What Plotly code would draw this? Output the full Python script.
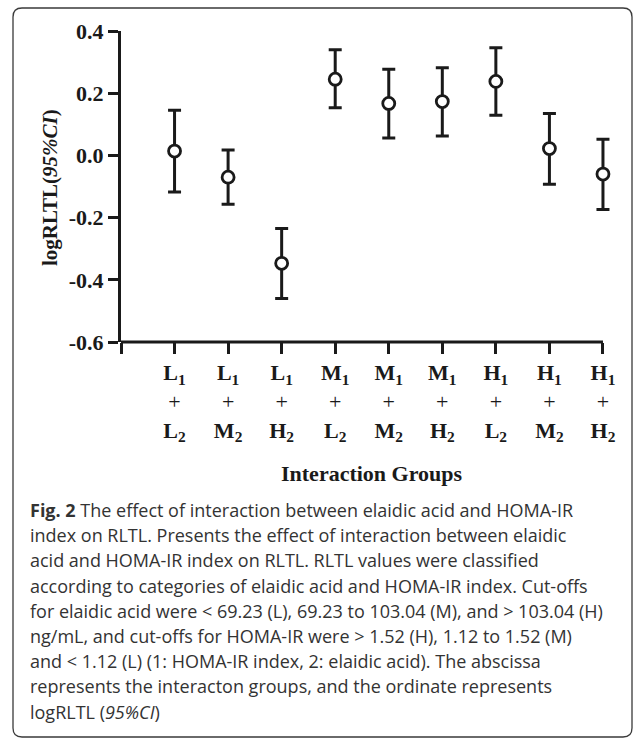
import plotly.graph_objects as go

# ---- data ----
groups = ["L1+L2", "L1+M2", "L1+H2", "M1+L2", "M1+M2", "M1+H2", "H1+L2", "H1+M2", "H1+H2"]
tick_labels = [
    "<b>L<sub>1</sub></b><br>+<br><b>L<sub>2</sub></b>",
    "<b>L<sub>1</sub></b><br>+<br><b>M<sub>2</sub></b>",
    "<b>L<sub>1</sub></b><br>+<br><b>H<sub>2</sub></b>",
    "<b>M<sub>1</sub></b><br>+<br><b>L<sub>2</sub></b>",
    "<b>M<sub>1</sub></b><br>+<br><b>M<sub>2</sub></b>",
    "<b>M<sub>1</sub></b><br>+<br><b>H<sub>2</sub></b>",
    "<b>H<sub>1</sub></b><br>+<br><b>L<sub>2</sub></b>",
    "<b>H<sub>1</sub></b><br>+<br><b>M<sub>2</sub></b>",
    "<b>H<sub>1</sub></b><br>+<br><b>H<sub>2</sub></b>",
]
log_rltl = [0.014, -0.070, -0.347, 0.245, 0.167, 0.173, 0.238, 0.022, -0.060]
ci_upper = [0.145, 0.017, -0.235, 0.340, 0.277, 0.282, 0.346, 0.135, 0.052]
ci_lower = [-0.118, -0.157, -0.460, 0.153, 0.056, 0.062, 0.129, -0.093, -0.174]
y_ticks = [-0.6, -0.4, -0.2, 0.0, 0.2, 0.4]
y_tick_text = ["<b>-0.6</b>", "<b>-0.4</b>", "<b>-0.2</b>", "<b>0.0</b>", "<b>0.2</b>", "<b>0.4</b>"]

caption_lines = [
    "<b>Fig. 2</b> The effect of interaction between elaidic acid and HOMA-IR",
    "index on RLTL. Presents the effect of interaction between elaidic",
    "acid and HOMA-IR index on RLTL. RLTL values were classified",
    "according to categories of elaidic acid and HOMA-IR index. Cut-offs",
    "for elaidic acid were &lt; 69.23 (L), 69.23 to 103.04 (M), and &gt; 103.04 (H)",
    "ng/mL, and cut-offs for HOMA-IR were &gt; 1.52 (H), 1.12 to 1.52 (M)",
    "and &lt; 1.12 (L) (1: HOMA-IR index, 2: elaidic acid). The abscissa",
    "represents the interacton groups, and the ordinate represents",
    "logRLTL (<i>95%CI</i>)",
]

# ---- layout geometry (pixels) ----
W, H = 634, 743
X_MAX = 9.15
L, T, B = 121, 31, 401
R = W - L - round(482 / 9 * X_MAX)
PW, PH = W - L - R, H - T - B


def px(x):
    return (x - L) / PW


def py(y):
    return (H - B - y) / PH


xpos = list(range(1, len(groups) + 1))
err_plus = [u - v for u, v in zip(ci_upper, log_rltl)]
err_minus = [v - l for v, l in zip(log_rltl, ci_lower)]

INK = "#1a1a1a"
SERIF = "Liberation Serif, Times New Roman, serif"

fig = go.Figure()
fig.add_trace(go.Scatter(
    x=xpos, y=log_rltl, mode="markers",
    marker=dict(symbol="circle", size=12, color="white", line=dict(color=INK, width=2.8)),
    error_y=dict(type="data", symmetric=False, array=err_plus, arrayminus=err_minus,
                 color=INK, thickness=3, width=6.5),
    hovertext=groups, showlegend=False, cliponaxis=False,
))

# x axis line (ends at the last category, like the reference)
fig.add_shape(type="line", xref="x", yref="paper", x0=0, x1=len(groups), y0=0, y1=0,
              line=dict(color=INK, width=3))

# border with rounded corners
x0, x1, y0, y1, r = 13, 632, 8, 737, 9
path = (f"M {px(x0 + r)},{py(y0)} L {px(x1 - r)},{py(y0)} Q {px(x1)},{py(y0)} {px(x1)},{py(y0 + r)} "
        f"L {px(x1)},{py(y1 - r)} Q {px(x1)},{py(y1)} {px(x1 - r)},{py(y1)} "
        f"L {px(x0 + r)},{py(y1)} Q {px(x0)},{py(y1)} {px(x0)},{py(y1 - r)} "
        f"L {px(x0)},{py(y0 + r)} Q {px(x0)},{py(y0)} {px(x0 + r)},{py(y0)} Z")
fig.add_shape(type="path", path=path, xref="paper", yref="paper",
              line=dict(color="#3a3a3a", width=1.3), layer="below")

annotations = []
line0, step = 510, 25.2
for i, txt in enumerate(caption_lines):
    annotations.append(dict(
        text=txt, xref="paper", yref="paper", x=px(28), y=py(line0 + i * step),
        xanchor="left", yanchor="middle", showarrow=False, align="left",
        font=dict(family="Open Sans, Lato, sans-serif", size=18, color="#333333"),
    ))
annotations.append(dict(
    text="<b>Interaction Groups</b>", xref="paper", yref="paper", x=px(372), y=py(473),
    xanchor="center", yanchor="middle", showarrow=False,
    font=dict(family=SERIF, size=22, color=INK),
))
annotations.append(dict(
    text="<b>logRLTL(<i>95%CI</i>)</b>", xref="paper", yref="paper", x=px(50), y=py(188),
    xanchor="center", yanchor="middle", showarrow=False, textangle=-90,
    font=dict(family=SERIF, size=21, color=INK),
))

fig.update_layout(
    width=W, height=H,
    margin=dict(l=L, r=R, t=T, b=B, pad=0),
    paper_bgcolor="white", plot_bgcolor="white",
    annotations=annotations,
    xaxis=dict(
        range=[0, X_MAX], tickmode="array", tickvals=[0] + xpos, ticktext=[""] + tick_labels,
        showline=False, ticks="outside", ticklen=11,
        tickwidth=3, tickcolor=INK, showgrid=False, zeroline=False,
        tickfont=dict(family=SERIF, size=22, color=INK),
    ),
    yaxis=dict(
        range=[-0.6, 0.4], tickmode="array", tickvals=y_ticks, ticktext=y_tick_text,
        showline=True, linecolor=INK, linewidth=3, ticks="outside", ticklen=10,
        tickwidth=3, tickcolor=INK, showgrid=False, zeroline=False,
        tickfont=dict(family=SERIF, size=22, color=INK),
    ),
)

fig.write_html("out.html", config={"displayModeBar": False},
               post_script="document.body.style.margin='0';document.body.style.overflow='hidden';")
